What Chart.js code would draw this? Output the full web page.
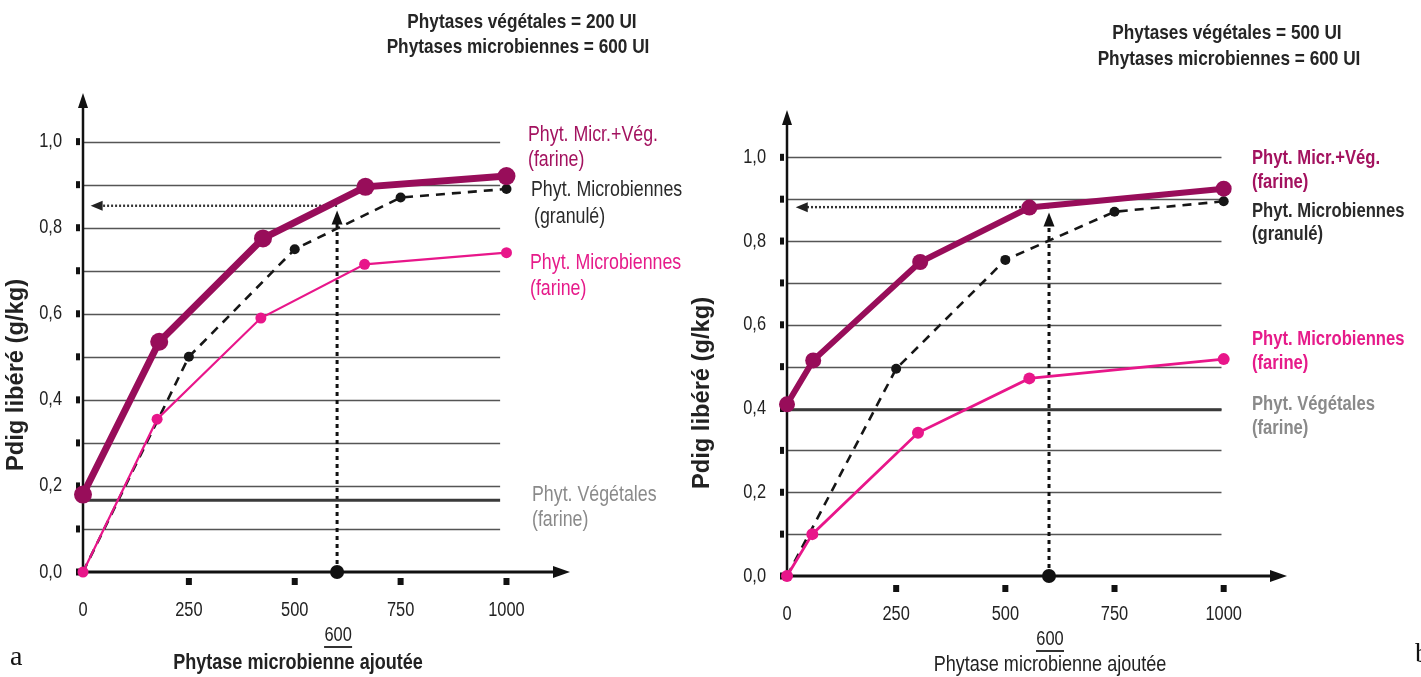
<!DOCTYPE html>
<html><head><meta charset="utf-8">
<script src="https://cdn.jsdelivr.net/npm/chart.js@4.4.1/dist/chart.umd.min.js"></script>
<style>
html,body{margin:0;padding:0;background:#fff;width:1421px;height:677px;overflow:hidden;}
#wrap{position:relative;width:1421px;height:677px;background:#fff;}
canvas{position:absolute;top:0;}
#ca{left:0;}
#cb{left:660px;}
</style></head><body>
<div id="wrap"><canvas id="ca" width="700" height="677"></canvas><canvas id="cb" width="761" height="677"></canvas></div>
<script>
// ---------- DATA ----------
const xTickValues = [0, 250, 500, 750, 1000];
const xTickLabels = ['0', '250', '500', '750', '1000'];
const yTickValues = [0, 0.2, 0.4, 0.6, 0.8, 1.0];
const yTickLabels = ['0,0', '0,2', '0,4', '0,6', '0,8', '1,0'];
const yMinorTicks = [0, 0.1, 0.2, 0.3, 0.4, 0.5, 0.6, 0.7, 0.8, 0.9, 1.0];
const gridValues = [0.1, 0.2, 0.3, 0.4, 0.5, 0.6, 0.7, 0.8, 0.9, 1.0];
const seriesNames = ['Phyt. Micr.+Vég.', 'Phyt. Microbiennes', 'Phyt. Microbiennes', 'Phyt. Végétales'];
const seriesForms = ['(farine)', '(granulé)', '(farine)', '(farine)'];

// panel a : végétales 200 UI
const doseA_mix = [0, 180, 425, 667, 1000];
const pdigA_mix = [0.18, 0.535, 0.775, 0.895, 0.92];
const doseA_gran = [0, 250, 500, 750, 1000];
const pdigA_gran = [0, 0.50, 0.75, 0.87, 0.89];
const doseA_far = [0, 175, 420, 665, 1000];
const pdigA_far = [0, 0.355, 0.59, 0.715, 0.742];
const doseA_veg = [0, 985];
const pdigA_veg = [0.167, 0.167];
const targetA = { dose: 600, pdig: 0.851, arrowTop: 0.84, arrowLeft: 18 };
const titleA = ['Phytases végétales = 200 UI', 'Phytases microbiennes = 600 UI'];

// panel b : végétales 500 UI
const doseB_mix = [0, 60, 305, 555, 1000];
const pdigB_mix = [0.41, 0.515, 0.75, 0.88, 0.925];
const doseB_gran = [0, 250, 500, 750, 1000];
const pdigB_gran = [0, 0.495, 0.755, 0.87, 0.895];
const doseB_far = [0, 58, 300, 555, 1000];
const pdigB_far = [0, 0.10, 0.342, 0.472, 0.518];
const doseB_veg = [0, 995];
const pdigB_veg = [0.397, 0.397];
const targetB = { dose: 600, pdig: 0.881, arrowTop: 0.868, arrowLeft: 20 };
const titleB = ['Phytases végétales = 500 UI', 'Phytases microbiennes = 600 UI'];

const xAxisTitle = 'Phytase microbienne ajoutée';
const yAxisTitle = 'Pdig libéré (g/kg)';

// ---------- HELPERS ----------
const FAM = "'Liberation Sans', Arial, sans-serif";
function zip(xs, ys) { return xs.map((x, i) => ({ x: x, y: ys[i] })); }
function txt(ctx, s, x, y, o) {
  ctx.save();
  ctx.translate(x, y);
  if (o.rot) ctx.rotate(o.rot);
  ctx.scale(o.sx || 0.82, 1);
  ctx.font = (o.bold ? 'bold ' : '') + o.size + 'px ' + (o.family || FAM);
  ctx.fillStyle = o.color || '#222';
  ctx.textAlign = o.align || 'left';
  ctx.textBaseline = 'middle';
  ctx.fillText(s, 0, 0);
  ctx.restore();
}
function tri(ctx, pts, color) {
  ctx.save(); ctx.fillStyle = color; ctx.beginPath();
  ctx.moveTo(pts[0][0], pts[0][1]); ctx.lineTo(pts[1][0], pts[1][1]); ctx.lineTo(pts[2][0], pts[2][1]);
  ctx.closePath(); ctx.fill(); ctx.restore();
}

const C_MIX = '#980d5a';
const C_FAR = '#e8168a';
const C_GRAN = '#161616';
const C_VEG = '#3a3a3a';

function makePanel(id, P) {
  const datasets = [
    { data: zip(P.mix[0], P.mix[1]), borderColor: C_MIX, backgroundColor: C_MIX, borderWidth: P.mixW,
      pointRadius: P.mixR, pointBorderWidth: 0, pointBackgroundColor: C_MIX, clip: false },
    { data: zip(P.far[0], P.far[1]), borderColor: C_FAR, backgroundColor: C_FAR, borderWidth: P.farW,
      pointRadius: P.farR, pointBorderWidth: 0, pointBackgroundColor: C_FAR, clip: false },
    { data: zip(P.gran[0], P.gran[1]), borderColor: C_GRAN, backgroundColor: C_GRAN, borderWidth: 2.6,
      borderDash: [9, 7], pointRadius: P.gran[0].map((d, i) => i === 0 ? 0 : 5), pointBorderWidth: 0,
      pointBackgroundColor: C_GRAN, clip: false },
    { data: [{ x: P.target.dose, y: 0 }], showLine: false, pointRadius: 7, pointBorderWidth: 0,
      pointBackgroundColor: '#111', clip: false },
    { data: zip(P.veg[0], P.veg[1]), borderColor: C_VEG, borderWidth: 3, pointRadius: 0, clip: false },
    { data: [{ x: P.target.dose, y: 0 }, { x: P.target.dose, y: P.target.arrowTop - 0.03 }],
      borderColor: '#111', borderWidth: 3, borderDash: [4, 4], pointRadius: 0, clip: false },
    { data: [{ x: P.target.dose, y: P.target.pdig }, { x: P.target.arrowLeft + 20, y: P.target.pdig }],
      borderColor: '#333', borderWidth: 2.4, borderDash: [2, 2], pointRadius: 0, clip: false }
  ];

  const deco = {
    id: 'deco_' + id,
    beforeDatasetsDraw(chart) {
      const ctx = chart.ctx, xs = chart.scales.x, ys = chart.scales.y;
      const x0 = xs.getPixelForValue(0), y0 = ys.getPixelForValue(0);
      const gEnd = xs.getPixelForValue(P.gridEnd);
      ctx.save();
      // grid lines
      ctx.strokeStyle = 'rgba(55,55,55,0.85)'; ctx.lineWidth = 1.6;
      gridValues.forEach(v => {
        const y = Math.round(ys.getPixelForValue(v)) + 0.5;
        ctx.beginPath(); ctx.moveTo(x0, y); ctx.lineTo(gEnd, y); ctx.stroke();
      });
      // axes
      const top = chart.chartArea.top, right = chart.chartArea.right;
      ctx.strokeStyle = '#111'; ctx.lineWidth = 2.5;
      ctx.beginPath(); ctx.moveTo(x0, y0); ctx.lineTo(x0, top + 12); ctx.stroke();
      ctx.lineWidth = 3;
      ctx.beginPath(); ctx.moveTo(x0, y0); ctx.lineTo(right - 12, y0); ctx.stroke();
      tri(ctx, [[x0, top], [x0 - 5, top + 15], [x0 + 5, top + 15]], '#111');
      tri(ctx, [[right, y0], [right - 17, y0 - 6], [right - 17, y0 + 6]], '#111');
      // y tick squares + labels
      ctx.fillStyle = '#111';
      yMinorTicks.forEach(v => {
        const y = ys.getPixelForValue(v);
        ctx.fillRect(x0 - 7, y - 3.5, 4, 7);
      });
      yTickValues.forEach((v, i) => {
        txt(ctx, yTickLabels[i], x0 - 21, ys.getPixelForValue(v), { size: 20, align: 'right', color: '#222' });
      });
      // x tick squares + labels
      xTickValues.forEach((v, i) => {
        const x = xs.getPixelForValue(v);
        if (v > 0) { ctx.fillStyle = '#111'; ctx.fillRect(x - 3, y0 + 6 + P.xTickOff, 6, 7); }
        txt(ctx, xTickLabels[i], x, y0 + P.xLabOff, { size: 20, align: 'center', color: '#222' });
      });
      ctx.restore();
    },
    afterDatasetsDraw(chart) {
      const ctx = chart.ctx, xs = chart.scales.x, ys = chart.scales.y;
      const tx = xs.getPixelForValue(P.target.dose);
      const tt = ys.getPixelForValue(P.target.arrowTop);
      tri(ctx, [[tx, tt], [tx - 5.5, tt + 14], [tx + 5.5, tt + 14]], '#111');
      const lx = xs.getPixelForValue(P.target.arrowLeft), ly = ys.getPixelForValue(P.target.pdig);
      tri(ctx, [[lx, ly], [lx + 12, ly - 5], [lx + 12, ly + 5]], '#222');
    },
    afterDraw(chart) {
      const ctx = chart.ctx, xs = chart.scales.x, ys = chart.scales.y;
      const x0 = xs.getPixelForValue(0), y0 = ys.getPixelForValue(0);
      // titles
      txt(ctx, P.title[0], P.titlePos[0][0], P.titlePos[0][1], { size: 21, bold: true, align: 'center', color: '#252525' });
      txt(ctx, P.title[1], P.titlePos[1][0], P.titlePos[1][1], { size: 21, bold: true, align: 'center', color: '#252525' });
      // series labels
      const cols = ['#a3125f', '#2a2a2a', '#e61b8a', '#8a8a8a'];
      P.labels.forEach((L, i) => {
        txt(ctx, seriesNames[i], L[0], L[1], { size: P.labSize, bold: P.labBold, color: cols[i] });
        txt(ctx, seriesForms[i], L[0] + (L[3] || 0), L[2], { size: P.labSize, bold: P.labBold, color: cols[i] });
      });
      // y axis title
      txt(ctx, yAxisTitle, P.yTitle[0], P.yTitle[1], { size: 23, sx: 1.03, bold: true, align: 'center', rot: -Math.PI / 2, color: '#222' });
      // 600 underlined
      const tx = xs.getPixelForValue(P.target.dose);
      txt(ctx, String(P.target.dose), tx + 1, y0 + 63, { size: 20, align: 'center', color: '#222' });
      ctx.save(); ctx.strokeStyle = '#333'; ctx.lineWidth = 2;
      ctx.beginPath(); ctx.moveTo(tx - 13, y0 + 75); ctx.lineTo(tx + 15, y0 + 75); ctx.stroke(); ctx.restore();
      // x axis title
      txt(ctx, xAxisTitle, P.xTitle[0], P.xTitle[1], { size: 22, bold: P.xTitleBold, align: 'center', color: '#222' });
      // panel letter
      txt(ctx, P.letter, P.letterPos[0], P.letterPos[1], { size: 28, sx: 1, family: "'Liberation Serif', 'DejaVu Serif', serif", color: '#111', align: 'left' });
    }
  };

  return new Chart(document.getElementById(id), {
    type: 'line',
    data: { datasets: datasets },
    options: {
      responsive: false, animation: false, events: [],
      layout: { padding: P.pad },
      plugins: { legend: { display: false }, tooltip: { enabled: false } },
      elements: { line: { tension: 0 } },
      scales: {
        x: { type: 'linear', min: 0, max: P.xMax, display: false },
        y: { type: 'linear', min: 0, max: P.yMax, display: false }
      }
    },
    plugins: [deco]
  });
}

makePanel('ca', {
  mix: [doseA_mix, pdigA_mix], far: [doseA_far, pdigA_far], gran: [doseA_gran, pdigA_gran],
  veg: [doseA_veg, pdigA_veg], target: targetA, title: titleA,
  pad: { left: 83, right: 130, top: 93, bottom: 105 }, xMax: 1150, yMax: 1.113,
  mixW: 7, mixR: 9, farW: 2.2, farR: 5.5, gridEnd: 985, xTickOff: 0, xLabOff: 38,
  titlePos: [[522, 22], [518, 47]],
  labels: [[528, 135, 160], [531, 190, 217, 3], [530, 263, 289], [532, 495, 520]],
  labSize: 21.7, labBold: false,
  yTitle: [17, 375], xTitle: [298, 663], xTitleBold: true,
  letter: 'a', letterPos: [10, 658]
});

makePanel('cb', {
  mix: [doseB_mix, pdigB_mix], far: [doseB_far, pdigB_far], gran: [doseB_gran, pdigB_gran],
  veg: [doseB_veg, pdigB_veg], target: targetB, title: titleB,
  pad: { left: 127, right: 134, top: 110, bottom: 101 }, xMax: 1145, yMax: 1.113,
  mixW: 6, mixR: 8, farW: 2.8, farR: 6, gridEnd: 995, xTickOff: 3, xLabOff: 38,
  titlePos: [[567, 33], [569, 59]],
  labels: [[592, 158, 182], [592, 211, 234], [592, 339, 363], [592, 404, 428]],
  labSize: 20.3, labBold: true,
  yTitle: [43, 393], xTitle: [390, 665], xTitleBold: false,
  letter: 'b', letterPos: [755, 655]
});
</script>
</body></html>
